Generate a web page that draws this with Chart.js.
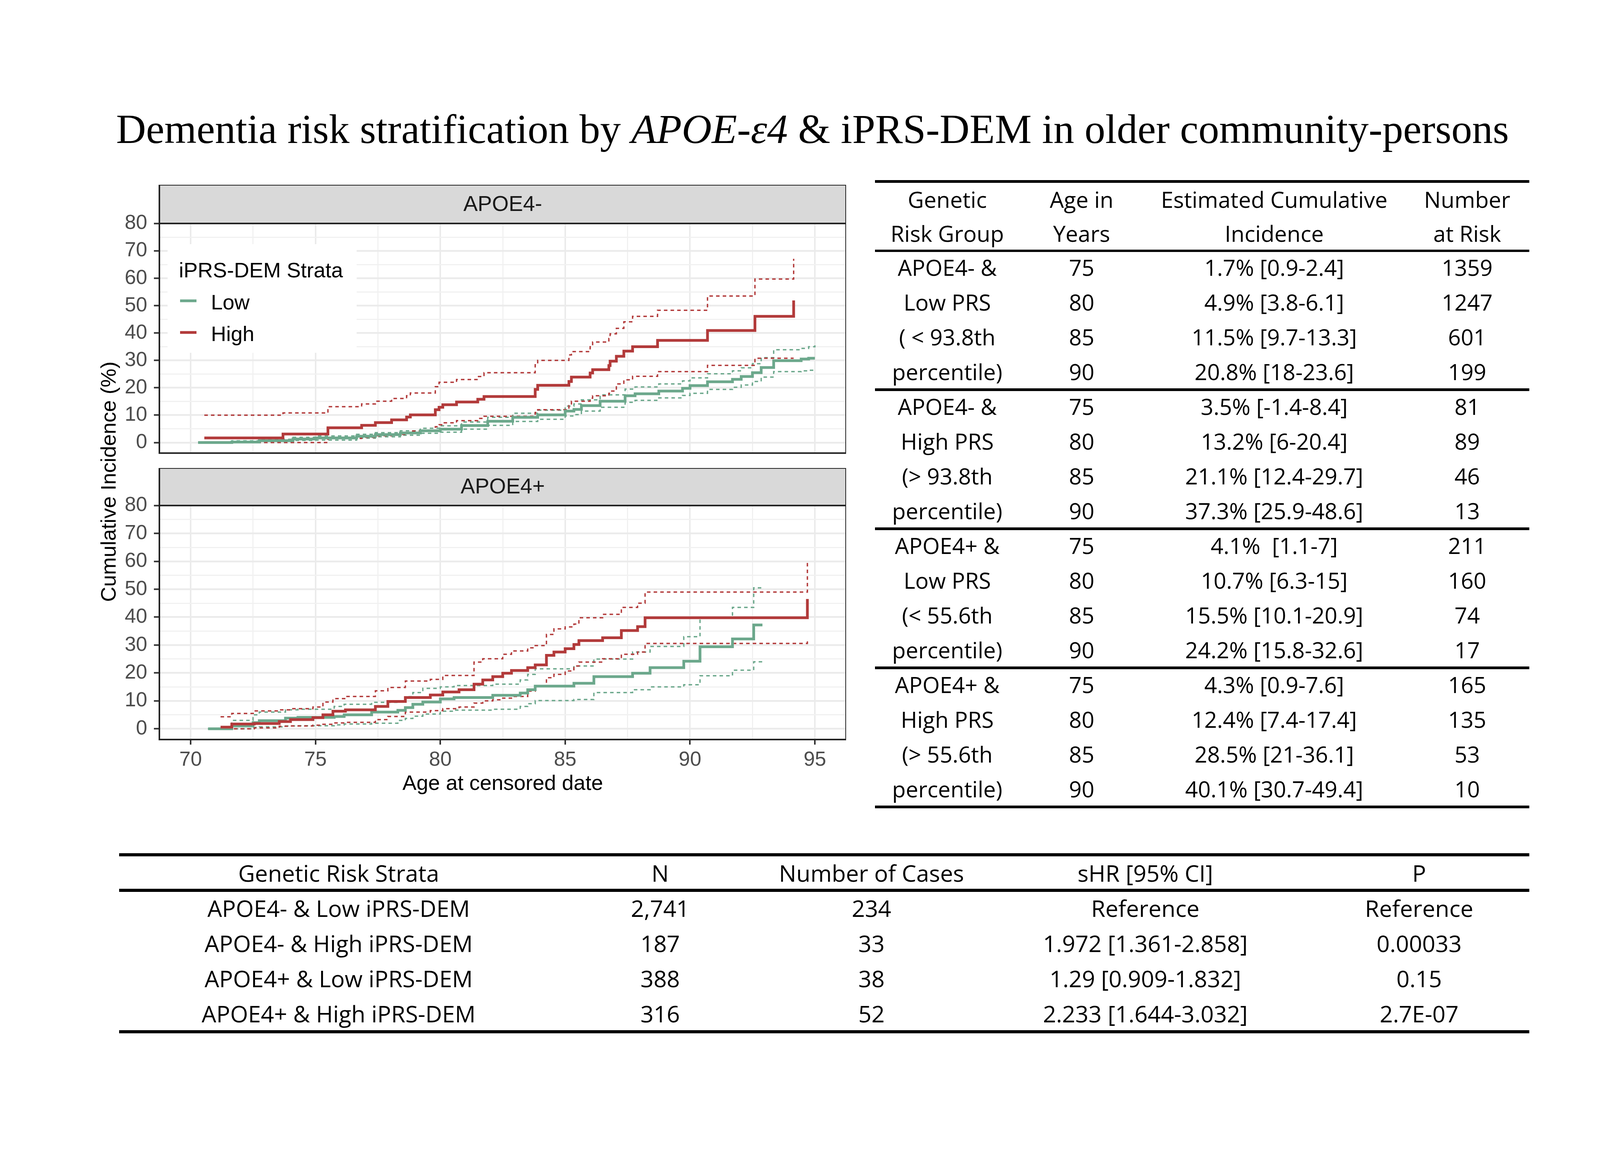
<!DOCTYPE html>
<html>
<head>
<meta charset="utf-8">
<script src="https://cdn.jsdelivr.net/npm/chart.js@4.4.0/dist/chart.umd.min.js"></script>
<style>
  html, body { margin:0; padding:0; background:#fff; }
  #page { position:relative; width:4200px; height:3000px; overflow:hidden; background:#fff; }
  .t { position:absolute; white-space:pre; text-align:center; color:#000; }
  .rule { position:absolute; background:#000; }
  canvas { position:absolute; }
  #title { position:absolute; left:0; width:4160px; top:278px; text-align:center; white-space:nowrap;
           font:106px "Liberation Serif", "Times New Roman", serif; line-height:106px; color:#000; }
  #ytitle { position:absolute; left:277px; top:1233px; white-space:nowrap; line-height:1;
            font:54px "Liberation Sans", Arial, sans-serif; color:#000;
            transform:translate(-50%,-50%) rotate(-90deg); }
</style>
</head>
<body>
<div id="page">
  <div id="title">Dementia risk stratification by <i>APOE-ε4</i> &amp; iPRS-DEM in older community-persons</div>
  <div id="ytitle">Cumulative Incidence (%)</div>
  <canvas id="chart-neg" width="1916" height="735" style="left:250px;top:473px"></canvas>
  <canvas id="chart-pos" width="1916" height="900" style="left:250px;top:1198px"></canvas>
</div>
<script>
// ---- curves (age in years, cumulative incidence %) ----
// APOE4- , low iPRS-DEM
const negLowAge = [70.3, 71.65, 72.75, 74.1, 75.0, 76.65, 77.4, 78.4, 79.2, 80.0, 80.85, 81.9, 82.9, 83.9, 85.0, 85.35, 85.65, 86.4, 87.4, 87.8, 88.75, 89.7, 90.0, 90.7, 91.7, 92.05, 92.5, 92.85, 93.35, 94.45, 94.75, 95.0];
const negLowEst = [0, 0.2, 0.7, 1.3, 1.7, 2.3, 2.9, 3.5, 4.3, 4.9, 6.2, 7.8, 9.2, 10.1, 11.5, 12.1, 13.5, 15.1, 17.1, 17.8, 18.8, 19.8, 20.8, 22.2, 23.1, 24.1, 25.5, 27.4, 29.9, 30.5, 30.8, 30.8];
const negLowHi  = [0.1, 0.6, 1.2, 1.9, 2.4, 3.0, 3.6, 4.3, 5.2, 6.1, 7.5, 9.2, 10.7, 11.8, 13.3, 14.1, 15.6, 17.4, 19.5, 20.3, 21.4, 22.5, 23.6, 25.1, 26.2, 27.3, 28.8, 31.0, 33.9, 34.4, 35.0, 35.5];
const negLowLo  = [0, 0, 0.3, 0.8, 0.9, 1.6, 2.1, 2.7, 3.4, 3.8, 4.9, 6.3, 7.7, 8.5, 9.7, 10.2, 11.5, 12.9, 14.7, 15.4, 16.3, 17.2, 18.0, 19.4, 20.2, 21.0, 22.3, 23.9, 25.9, 26.2, 26.4, 26.4];
// APOE4- , high iPRS-DEM
const negHighAge = [70.55, 73.7, 75.5, 76.85, 77.4, 78.05, 78.65, 78.8, 79.8, 79.95, 80.1, 80.65, 81.5, 81.75, 83.8, 83.9, 85.15, 85.25, 86.0, 86.1, 86.75, 86.8, 87.05, 87.35, 87.7, 88.7, 90.7, 92.6, 94.15];
const negHighEst = [1.7, 3.1, 5.4, 6.3, 7.3, 8.3, 9.3, 10.1, 12.0, 12.9, 13.8, 14.8, 15.8, 16.8, 19.4, 20.9, 22.3, 23.9, 25.4, 26.6, 28.1, 29.7, 31.5, 33.4, 35.0, 37.3, 40.9, 46.1, 51.9];
const negHighHi  = [10.0, 10.8, 13.1, 14.1, 15.1, 16.1, 17.1, 18.1, 20.4, 22.0, 22.0, 23.0, 24.1, 25.5, 28.4, 30.0, 32.0, 33.2, 35.0, 36.7, 38.0, 39.7, 41.7, 44.1, 46.1, 48.3, 53.5, 59.7, 67.1];
const negHighLo  = [0, 0, 1.5, 1.9, 2.5, 3.0, 3.5, 4.2, 5.8, 6.5, 7.2, 8.0, 8.8, 9.6, 11.0, 12.0, 13.5, 15.1, 16.2, 17.1, 18.0, 18.8, 21.4, 22.9, 24.2, 25.9, 28.2, 30.8, 30.8];
// APOE4+ , low iPRS-DEM
const posLowAge = [70.7, 71.65, 72.5, 72.75, 73.8, 74.3, 75.75, 76.15, 77.25, 78.3, 78.6, 78.9, 79.3, 80.0, 80.55, 82.1, 83.2, 83.5, 83.8, 85.35, 86.15, 87.7, 88.4, 89.75, 90.4, 91.7, 92.55, 92.9];
const posLowEst = [0, 1.0, 2.2, 2.9, 3.8, 4.1, 4.4, 5.0, 6.0, 6.6, 7.6, 8.8, 9.6, 10.7, 11.2, 12.0, 12.8, 14.0, 15.3, 16.3, 18.7, 19.9, 21.9, 24.2, 29.4, 32.2, 37.2, 37.2];
const posLowHi  = [0, 3.0, 5.0, 6.0, 6.8, 7.0, 8.0, 8.8, 9.5, 10.0, 11.5, 13.0, 14.5, 15.0, 15.5, 16.0, 17.5, 19.5, 21.5, 22.5, 25.0, 27.5, 29.5, 33.0, 40.0, 43.5, 50.5, 50.5];
const posLowLo  = [0, 0, 0.5, 0.7, 1.0, 1.1, 1.4, 1.7, 2.0, 3.0, 3.7, 4.5, 5.3, 6.3, 6.7, 7.0, 8.0, 9.0, 10.1, 10.5, 13.0, 14.0, 15.0, 15.8, 19.0, 21.0, 24.0, 24.0];
// APOE4+ , high iPRS-DEM
const posHighAge = [71.2, 71.65, 72.55, 73.55, 74.0, 74.9, 75.3, 75.7, 76.2, 77.4, 77.9, 78.6, 79.6, 80.1, 80.75, 81.35, 81.7, 82.1, 82.5, 82.85, 83.5, 83.8, 84.25, 84.55, 85.0, 85.35, 85.55, 86.5, 87.25, 87.9, 88.2, 94.7];
const posHighEst = [0.6, 1.7, 1.9, 2.6, 3.3, 4.0, 5.0, 6.3, 6.8, 8.0, 9.8, 11.2, 12.1, 13.2, 14.0, 16.0, 17.5, 18.7, 19.9, 20.9, 21.9, 22.9, 26.3, 27.5, 28.7, 30.2, 31.6, 32.6, 35.2, 36.6, 39.8, 46.5];
const posHighHi  = [4.3, 5.5, 6.4, 6.8, 7.2, 7.8, 9.6, 10.8, 11.6, 13.6, 14.8, 17.1, 17.7, 19.1, 19.1, 23.9, 25.1, 25.1, 26.7, 27.9, 29.0, 29.8, 33.8, 35.8, 36.5, 37.5, 39.8, 41.0, 43.5, 45.0, 49.0, 59.8];
const posHighLo  = [0, 0, 0.3, 0.9, 1.0, 1.3, 1.6, 2.1, 2.3, 3.3, 4.4, 6.0, 6.5, 7.2, 7.8, 9.2, 10.0, 10.4, 11.0, 11.6, 13.5, 15.2, 18.3, 19.5, 20.7, 22.5, 23.9, 25.1, 26.7, 27.5, 30.6, 31.8];

// axes
const xGridValues = [70, 72.5, 75, 77.5, 80, 82.5, 85, 87.5, 90, 92.5, 95];
const yGridValues = [0, 5, 10, 15, 20, 25, 30, 35, 40, 45, 50, 55, 60, 65, 70, 75, 80];
const strataLabels = ['Low', 'High'];
const panelLabels = ['APOE4-', 'APOE4+'];
const legendTitle = 'iPRS-DEM Strata';
const xTitle = 'Age at censored date';

// right-hand table
const rtHeader = [['Genetic', 'Risk Group'], ['Age in', 'Years'], ['Estimated Cumulative', 'Incidence'], ['Number', 'at Risk']];
const riskGroups = [
  ['APOE4- &', 'Low PRS', '( < 93.8th', 'percentile)'],
  ['APOE4- &', 'High PRS', '(> 93.8th', 'percentile)'],
  ['APOE4+ &', 'Low PRS', '(< 55.6th', 'percentile)'],
  ['APOE4+ &', 'High PRS', '(> 55.6th', 'percentile)']
];
const checkAges = [75, 80, 85, 90];
const cumInc = [
  ['1.7% [0.9-2.4]', '4.9% [3.8-6.1]', '11.5% [9.7-13.3]', '20.8% [18-23.6]'],
  ['3.5% [-1.4-8.4]', '13.2% [6-20.4]', '21.1% [12.4-29.7]', '37.3% [25.9-48.6]'],
  ['4.1%  [1.1-7]', '10.7% [6.3-15]', '15.5% [10.1-20.9]', '24.2% [15.8-32.6]'],
  ['4.3% [0.9-7.6]', '12.4% [7.4-17.4]', '28.5% [21-36.1]', '40.1% [30.7-49.4]']
];
const atRisk = [[1359, 1247, 601, 199], [81, 89, 46, 13], [211, 160, 74, 17], [165, 135, 53, 10]];

// bottom table
const btHeader = ['Genetic Risk Strata', 'N', 'Number of Cases', 'sHR [95% CI]', 'P'];
const strata = ['APOE4- & Low iPRS-DEM', 'APOE4- & High iPRS-DEM', 'APOE4+ & Low iPRS-DEM', 'APOE4+ & High iPRS-DEM'];
const nTotal = ['2,741', '187', '388', '316'];
const nCases = [234, 33, 38, 52];
const shr = ['Reference', '1.972 [1.361-2.858]', '1.29 [0.909-1.832]', '2.233 [1.644-3.032]'];
const pVal = ['Reference', '0.00033', '0.15', '2.7E-07'];

const lowColor = '#6ca88c', highColor = '#b23a3a';

// ---------------- tables (plain html text) ----------------
const page = document.getElementById('page');
const TBL = '"Open Sans", "Noto Sans", sans-serif';
function put(text, cx, baseline, size) {
  const d = document.createElement('div');
  d.className = 't';
  d.textContent = text;
  d.style.left = (cx - 600) + 'px';
  d.style.width = '1200px';
  d.style.top = (baseline - 0.888 * size) + 'px';
  d.style.font = size + 'px ' + TBL;
  d.style.lineHeight = size + 'px';
  page.appendChild(d);
}
function rule(x0, x1, y, h) {
  const d = document.createElement('div');
  d.className = 'rule';
  d.style.left = x0 + 'px'; d.style.width = (x1 - x0) + 'px';
  d.style.top = (y - h / 2) + 'px'; d.style.height = h + 'px';
  page.appendChild(d);
}

(function(){
  const cols = [2425, 2769, 3262, 3756], fs = 57;
  rule(2240, 3915, 464, 7);
  rtHeader.forEach((h, c) => { put(h[0], cols[c], 533, fs); put(h[1], cols[c], 620, fs); });
  rule(2240, 3915, 642, 6);
  riskGroups.forEach((g, gi) => {
    g.forEach((label, r) => {
      const base = 707 + gi * 356 + r * 89;
      put(label, cols[0], base, fs);
      put(String(checkAges[r]), cols[1], base, fs);
      put(cumInc[gi][r], cols[2], base, fs);
      put(String(atRisk[gi][r]), cols[3], base, fs);
    });
    rule(2240, 3915, 997 + gi * 356, 7);
  });
})();

(function(){
  const cols = [867, 1690, 2231, 2932, 3633], fs = 59;
  rule(305, 3915, 2188, 8);
  btHeader.forEach((h, c) => put(h, cols[c], 2257, fs));
  rule(305, 3915, 2279, 8);
  strata.forEach((s, i) => {
    const base = 2347 + i * 90;
    put(s, cols[0], base, fs);
    put(nTotal[i], cols[1], base, fs);
    put(String(nCases[i]), cols[2], base, fs);
    put(shr[i], cols[3], base, fs);
    put(pVal[i], cols[4], base, fs);
  });
  rule(305, 3915, 2641, 8);
})();

// ---------------- charts ----------------
Chart.defaults.font.family = '"Liberation Sans", Arial, sans-serif';

const panelDecor = {
  id: 'panelDecor',
  afterDraw(chart, args, opts) {
    const { ctx, chartArea: a } = chart;
    const w = a.right - a.left;
    ctx.save();
    // facet strip
    ctx.fillStyle = '#d9d9d9';
    ctx.fillRect(a.left, a.top - opts.stripH, w, opts.stripH);
    ctx.strokeStyle = '#222';
    ctx.lineWidth = 4;
    ctx.strokeRect(a.left, a.top - opts.stripH, w, opts.stripH);
    ctx.fillStyle = '#1a1a1a';
    ctx.font = '55px "Liberation Sans", Arial, sans-serif';
    ctx.textAlign = 'center';
    ctx.textBaseline = 'middle';
    ctx.fillText(opts.strip, a.left + w / 2, a.top - opts.stripH / 2 + 2);
    // panel border
    ctx.strokeRect(a.left, a.top, w, a.bottom - a.top);
    // legend inside the upper panel
    if (opts.legend) {
      ctx.fillStyle = '#fff';
      ctx.fillRect(a.left + 21, a.top + 53, 484, 278);
      ctx.fillStyle = '#000';
      ctx.textAlign = 'left';
      ctx.textBaseline = 'alphabetic';
      ctx.font = '54px "Liberation Sans", Arial, sans-serif';
      ctx.fillText(legendTitle, a.left + 50, a.top + 138);
      [lowColor, highColor].forEach((col, i) => {
        const ky = a.top + 198 + i * 81;
        ctx.strokeStyle = col;
        ctx.lineWidth = 7;
        ctx.beginPath();
        ctx.moveTo(a.left + 53, ky);
        ctx.lineTo(a.left + 95, ky);
        ctx.stroke();
        ctx.fillStyle = '#000';
        ctx.fillText(strataLabels[i], a.left + 132, ky + 22);
      });
    }
    ctx.restore();
  }
};

function pts(xs, ys) { return xs.map((x, i) => ({ x: x, y: ys[i] })); }

function curveSets(lowAge, lowEst, lowLo, lowHi, highAge, highEst, highLo, highHi) {
  const base = { stepped: true, pointRadius: 0, fill: false, tension: 0, borderCapStyle: 'butt' };
  const dash = Object.assign({}, base, { borderWidth: 3.5, borderDash: [9, 8] });
  const solid = Object.assign({}, base, { borderWidth: 7 });
  return [
    Object.assign({}, solid, { label: 'High', data: pts(highAge, highEst), borderColor: highColor, order: 1 }),
    Object.assign({}, solid, { label: 'Low', data: pts(lowAge, lowEst), borderColor: lowColor, order: 2 }),
    Object.assign({}, dash, { label: 'High upper', data: pts(highAge, highHi), borderColor: highColor, order: 3 }),
    Object.assign({}, dash, { label: 'High lower', data: pts(highAge, highLo), borderColor: highColor, order: 4 }),
    Object.assign({}, dash, { label: 'Low upper', data: pts(lowAge, lowHi), borderColor: lowColor, order: 5 }),
    Object.assign({}, dash, { label: 'Low lower', data: pts(lowAge, lowLo), borderColor: lowColor, order: 6 })
  ];
}

const isMajor = (c, step) => c.tick && Math.abs(c.tick.value % step) < 1e-6;

function panelOptions(strip, stripH, showX, xAxisH, legend) {
  return {
    responsive: false, animation: false, devicePixelRatio: 1,
    layout: { padding: { top: stripH, bottom: showX ? 0 : 40, left: 0, right: 0 } },
    plugins: {
      legend: { display: false }, tooltip: { enabled: false },
      panelDecor: { strip: strip, stripH: stripH, legend: legend }
    },
    scales: {
      x: {
        type: 'linear', min: 68.75, max: 96.25,
        afterBuildTicks: s => { s.ticks = xGridValues.map(v => ({ value: v })); },
        afterFit: s => { s.height = xAxisH; },
        ticks: { display: showX, autoSkip: false, maxRotation: 0, padding: 8, color: '#4d4d4d',
                 font: { size: 52 }, callback: v => (v % 5 === 0 ? String(v) : '') },
        grid: { color: c => isMajor(c, 5) ? '#ebebeb' : '#f1f1f1',
                lineWidth: c => isMajor(c, 5) ? 4 : 3,
                drawTicks: showX, tickLength: 13, tickWidth: 4,
                tickColor: c => isMajor(c, 5) ? '#333' : 'rgba(0,0,0,0)' },
        border: { display: false },
        title: { display: showX, text: xTitle, color: '#000', font: { size: 54 }, padding: { top: 0, bottom: 58 } }
      },
      y: {
        type: 'linear', min: -3.85, max: 80,
        afterBuildTicks: s => { s.ticks = yGridValues.map(v => ({ value: v })); },
        afterFit: s => { s.width = 158; },
        ticks: { autoSkip: false, padding: 17, color: '#4d4d4d', font: { size: 52 },
                 callback: v => (v % 10 === 0 ? String(v) : '') },
        grid: { color: c => isMajor(c, 10) ? '#ebebeb' : '#f1f1f1',
                lineWidth: c => isMajor(c, 10) ? 4.5 : 3,
                tickLength: 14, tickWidth: 4,
                tickColor: c => isMajor(c, 10) ? '#333' : 'rgba(0,0,0,0)' },
        border: { display: false }
      }
    }
  };
}

new Chart(document.getElementById('chart-neg'), {
  type: 'line',
  data: { datasets: curveSets(negLowAge, negLowEst, negLowLo, negLowHi, negHighAge, negHighEst, negHighLo, negHighHi) },
  options: panelOptions(panelLabels[0], 99, false, 0, true),
  plugins: [panelDecor]
});

new Chart(document.getElementById('chart-pos'), {
  type: 'line',
  data: { datasets: curveSets(posLowAge, posLowEst, posLowLo, posLowHi, posHighAge, posHighEst, posHighLo, posHighHi) },
  options: panelOptions(panelLabels[1], 96, true, 205, false),
  plugins: [panelDecor]
});
</script>
</body>
</html>
